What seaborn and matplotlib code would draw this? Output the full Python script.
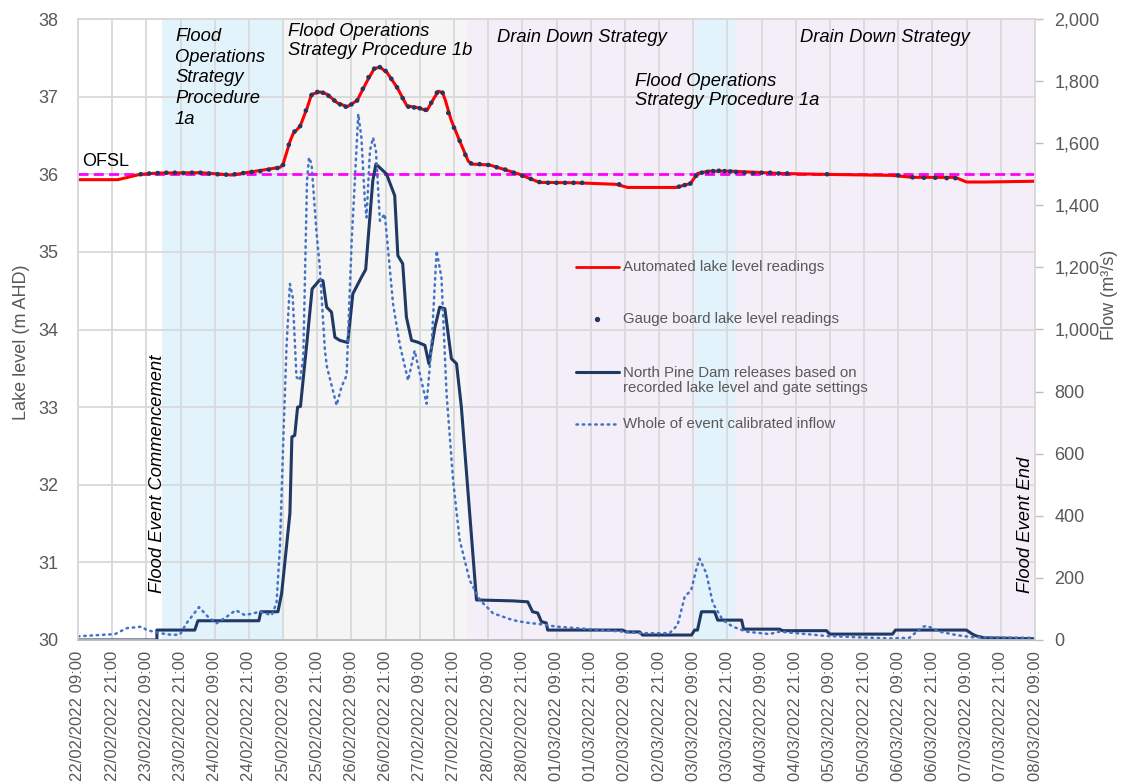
import matplotlib
matplotlib.use("Agg")
import matplotlib.pyplot as plt
import matplotlib.dates as mdates
from matplotlib.ticker import FuncFormatter, MultipleLocator
import pandas as pd
import seaborn as sns

START = pd.Timestamp("2022-02-22 09:00")
END_HOURS = 336

# automated lake level readings (hours after START, m AHD)
auto_hours = [0, 14, 22, 28, 43, 54, 59, 66, 71, 72, 74.5, 75.5, 78, 80.5, 82, 85,
              87.5, 91, 94.5, 98, 101.5, 104, 106, 108.5, 112, 115.5, 119, 122.5,
              124.5, 126.5, 128, 129, 131, 134, 137, 138.5, 144.5, 148, 155, 162,
              175, 189, 193, 210, 215, 217.5, 221.5, 229, 247, 260, 286, 293, 308,
              312, 318.5, 336]
auto_level = [35.93, 35.93, 36.00, 36.015, 36.02, 35.99, 36.02, 36.06, 36.09, 36.13,
              36.43, 36.52, 36.62, 36.86, 37.03, 37.06, 37.03, 36.92, 36.87, 36.95,
              37.20, 37.36, 37.38, 37.31, 37.12, 36.88, 36.86, 36.82, 36.95, 37.07,
              37.05, 36.95, 36.70, 36.43, 36.17, 36.13, 36.12, 36.08, 36.00, 35.895,
              35.89, 35.87, 35.83, 35.83, 35.88, 36.01, 36.04, 36.04, 36.01, 36.00,
              35.985, 35.96, 35.96, 35.90, 35.90, 35.91]

# gauge board lake level readings
gauge_hours = [22, 25, 28, 31, 34, 37, 40, 43, 46, 49, 52, 55, 58, 61, 64, 67, 70, 72,
               74, 76, 78, 80, 82, 84, 86, 88, 90, 92, 94, 96, 98, 100, 102, 104, 106,
               108, 110, 112, 114, 116, 118, 120, 122, 124, 126, 128, 130, 132, 134,
               136, 138, 141, 144, 147, 150, 153, 156, 159, 162, 165, 168, 171, 174,
               177, 190, 211, 213, 215, 217, 219, 221, 223, 225, 227, 229, 231, 234,
               237, 240, 243, 246, 249, 263, 288, 293, 297, 301, 305, 308]
gauge_level = [36.00, 36.01, 36.015, 36.02, 36.02, 36.015, 36.02, 36.02, 36.01, 36.00,
               35.995, 36.00, 36.015, 36.03, 36.04, 36.06, 36.08, 36.12, 36.38, 36.55,
               36.62, 36.82, 37.02, 37.06, 37.05, 37.01, 36.95, 36.90, 36.87, 36.90,
               36.95, 37.10, 37.25, 37.36, 37.38, 37.33, 37.23, 37.12, 36.98, 36.87,
               36.86, 36.85, 36.83, 36.92, 37.05, 37.05, 36.79, 36.60, 36.43, 36.25,
               36.14, 36.13, 36.12, 36.09, 36.06, 36.02, 35.98, 35.94, 35.90, 35.89,
               35.89, 35.89, 35.89, 35.89, 35.87, 35.84, 35.86, 35.88, 35.98, 36.02,
               36.03, 36.04, 36.045, 36.04, 36.035, 36.03, 36.02, 36.015, 36.02, 36.02,
               36.01, 36.01, 36.00, 35.985, 35.96, 35.955, 35.955, 35.95, 35.95]

# North Pine Dam releases (m3/s)
release_hours = [0, 27.7, 27.7, 41, 42.1, 63.5, 64.2, 70.2, 71.5, 74.4, 75.1, 76.1,
                 77.1, 78.1, 80.2, 82.2, 84.9, 86, 87.3, 89, 90.2, 91.9, 94.7, 96.5,
                 99.5, 101, 103.5, 104.6, 108.3, 111.2, 112.3, 114, 115.3, 117.1,
                 119.3, 121.8, 123.2, 125.3, 127, 128.8, 131.1, 132.9, 134.6, 139.9,
                 152.6, 157.9, 159.6, 161.4, 162.7, 164.4, 164.9, 191.2, 192.6, 197.2,
                 198.2, 215.4, 216.5, 217.5, 218.9, 223.5, 224.6, 233, 233.7, 246.3,
                 247.4, 262.8, 263.9, 286, 287, 311.9, 314, 315.4, 318.2, 336]
release_flow = [0, 0, 32, 32, 62, 62, 91, 91, 150, 408, 654, 659, 750, 752, 943, 1131,
                1160, 1157, 1072, 1056, 975, 965, 958, 1115, 1168, 1193, 1479, 1533,
                1501, 1431, 1238, 1212, 1040, 965, 959, 949, 890, 1007, 1072, 1067,
                906, 890, 750, 129, 126, 123, 91, 87, 59, 55, 32, 32, 26, 26, 16, 16,
                32, 32, 91, 91, 64, 64, 35, 35, 30, 30, 19, 19, 32, 32, 19, 13, 7, 4]

# whole of event calibrated inflow (m3/s)
inflow_hours = [0, 13, 17.1, 22.4, 24.1, 28.8, 33.3, 35.8, 38.1, 42.5, 45.6, 48.7,
                52.2, 55.4, 58.6, 63.9, 68, 69.7, 70.9, 72, 73.2, 74.4, 75.4, 76.7,
                77.9, 79.1, 80.4, 81.1, 82, 83.7, 84.9, 86.7, 87.4, 90.8, 92.5, 94.3,
                95.1, 96.1, 98.4, 99.5, 100.7, 101.3, 102.5, 103.6, 104.6, 106, 107.7,
                108.9, 110.6, 113, 115.9, 118.2, 120, 122.4, 124.1, 125.9, 127.6,
                129.4, 131.7, 134, 137.5, 141.1, 145.7, 152.7, 157.4, 163.2, 168,
                191.2, 197.2, 207.7, 210.5, 213, 215.3, 217, 218.2, 220.6, 222.9,
                226.4, 229.9, 234.6, 242.8, 246.3, 255.7, 262.7, 273.2, 284.9, 291.9,
                296.6, 298.2, 302.5, 308.3, 314, 336]
inflow_flow = [12, 19, 38, 43, 32, 22, 16, 18, 54, 106, 75, 54, 75, 96, 80, 91, 80,
               119, 300, 622, 943, 1147, 1104, 847, 836, 911, 1479, 1554, 1533, 1318,
               1200, 932, 880, 756, 815, 852, 1051, 1286, 1694, 1618, 1415, 1361,
               1576, 1618, 1576, 1350, 1372, 1254, 1083, 950, 836, 932, 858, 761, 943,
               1254, 1168, 793, 514, 322, 193, 129, 86, 64, 56, 50, 43, 27, 22, 22,
               48, 139, 161, 225, 262, 215, 118, 64, 43, 27, 19, 27, 19, 13, 9, 5, 7,
               43, 45, 27, 16, 9, 7]

OFSL = 36.0

# operating strategy periods (start hour, end hour, kind)
period_start = [29.5, 72, 136.5, 216.5, 230.5]
period_end = [72, 136.5, 216.5, 230.5, 336]
period_kind = ["fos1a", "fos1b", "drain", "fos1a", "drain"]
period_color = {"fos1a": "#E2F3FB", "fos1b": "#F5F5F5", "drain": "#F3EEF8"}

flood_start_hour = 29
flood_end_hour = 336


def to_time(hours):
    return START + pd.to_timedelta(pd.Series(hours, dtype=float), unit="h")


auto_df = pd.DataFrame({"time": to_time(auto_hours), "level": auto_level})
gauge_df = pd.DataFrame({"time": to_time(gauge_hours), "level": gauge_level})
release_df = pd.DataFrame({"time": to_time(release_hours), "flow": release_flow})
inflow_df = pd.DataFrame({"time": to_time(inflow_hours), "flow": inflow_flow})

sns.set_style("white")
plt.rcParams["font.family"] = ["Liberation Sans", "DejaVu Sans"]

GREY_TXT = "#595959"
GRID = "#D9D9D9"

fig = plt.figure(figsize=(11.22, 7.82), dpi=100)
ax = fig.add_axes([78 / 1122, 142 / 782, 957 / 1122, 621 / 782])
ax2 = ax.twinx()

for s, e, k in zip(period_start, period_end, period_kind):
    ax.axvspan(to_time([s])[0], to_time([e])[0], color=period_color[k], lw=0, zorder=0)

ax.set_axisbelow(True)
ax.grid(True, color=GRID, lw=1.3)

ax.axhline(OFSL, color="#FF00FF", lw=2, ls=(0, (3.6, 1.9)), zorder=3)
sns.lineplot(data=auto_df, x="time", y="level", ax=ax, color="#FF0000", lw=2.2,
             estimator=None, sort=False, zorder=4)
sns.scatterplot(data=gauge_df, x="time", y="level", ax=ax, color="#1F3864", s=11,
                edgecolor="none", zorder=5)

sns.lineplot(data=release_df, x="time", y="flow", ax=ax2, color="#1F3864", lw=2.2,
             estimator=None, sort=False)
sns.lineplot(data=inflow_df, x="time", y="flow", ax=ax2, color="#4472C4", lw=1.8,
             estimator=None, sort=False)
ax2.lines[-1].set_linestyle((0, (0.6, 1.9)))
ax2.lines[-1].set_dash_capstyle("round")

ax.set_xlim(START, START + pd.Timedelta(hours=END_HOURS))
ax.set_ylim(30, 38)
ax2.set_ylim(0, 2000)
ax.yaxis.set_major_locator(MultipleLocator(1))
ax2.yaxis.set_major_locator(MultipleLocator(200))
ax2.yaxis.set_major_formatter(FuncFormatter(lambda v, p: f"{v:,.0f}"))
ax.set_xticks(pd.date_range(START, periods=END_HOURS // 12 + 1, freq="12h"))
ax.xaxis.set_major_formatter(mdates.DateFormatter("%d/%m/%Y %H:%M"))

ax.tick_params(axis="x", labelrotation=90, labelsize=12, colors=GREY_TXT, length=5,
               width=1, pad=3, color="#BFBFBF")
ax.tick_params(axis="y", labelsize=13, colors=GREY_TXT, length=0, pad=14)
ax2.tick_params(axis="y", labelsize=13, colors=GREY_TXT, length=6, width=1, pad=8,
                color="#BFBFBF")

ax.set_xlabel("")
ax.set_ylabel("Lake level (m AHD)", fontsize=13, color=GREY_TXT)
ax.yaxis.set_label_coords(-0.05, 0.48)
ax2.set_ylabel("Flow (m\u00b3/s)", fontsize=13, color=GREY_TXT)
ax2.yaxis.set_label_coords(1.069, 0.555)

for a in (ax, ax2):
    for sp in a.spines.values():
        sp.set_color(GRID)
        sp.set_linewidth(1.3)
    a.spines["bottom"].set_color("#BFBFBF")

# annotations
ann = dict(fontsize=13.2, style="italic", color="black", transform=ax.transAxes)
ax.text((175 - 78) / 957, (640 - 28) / 621, "Flood\nOperations\nStrategy\nProcedure\n1a",
        va="top", ha="left", linespacing=1.28, **ann)
ax.text((288 - 78) / 957, (640 - 23) / 621, "Flood Operations\nStrategy Procedure 1b",
        va="top", ha="left", linespacing=1.18, **ann)
ax.text((497 - 78) / 957, (640 - 37) / 621, "Drain Down Strategy", va="center", ha="left", **ann)
ax.text((800 - 78) / 957, (640 - 37) / 621, "Drain Down Strategy", va="center", ha="left", **ann)
ax.text((635 - 78) / 957, (640 - 73) / 621, "Flood Operations\nStrategy Procedure 1a",
        va="top", ha="left", linespacing=1.18, **ann)
ax.text(to_time([flood_start_hour - 1.2])[0], 30.6, "Flood Event Commencement", rotation=90,
        va="bottom", ha="center", fontsize=13.2, style="italic", color="black")
ax.text(to_time([flood_end_hour - 3.5])[0], 30.6, "Flood Event End", rotation=90,
        va="bottom", ha="center", fontsize=13.2, style="italic", color="black")
ax.text((82 - 78) / 957, (640 - 162) / 621, "OFSL", va="center", ha="left",
        fontsize=13, color="black", transform=ax.transAxes)

# legend drawn as keys
def fx(px):
    return (px - 78) / 957


def fy(py):
    return (640 - py) / 621


leg = dict(fontsize=10.8, color=GREY_TXT, transform=ax2.transAxes, va="center", ha="left")
ax2.plot([fx(576), fx(619)], [fy(267), fy(267)], color="#FF0000", lw=2, transform=ax2.transAxes)
ax2.text(fx(623), fy(267), "Automated lake level readings", **leg)
ax2.plot([fx(597)], [fy(319)], "o", color="#1F3864", ms=2.8, transform=ax2.transAxes)
ax2.text(fx(623), fy(319), "Gauge board lake level readings", **leg)
ax2.plot([fx(576), fx(619)], [fy(372), fy(372)], color="#1F3864", lw=2.2, transform=ax2.transAxes)
ax2.text(fx(623), fy(380.5), "North Pine Dam releases based on\nrecorded lake level and gate settings",
         linespacing=1.15, **leg)
ln = ax2.plot([fx(576), fx(619)], [fy(424), fy(424)], color="#4472C4", lw=1.8,
              transform=ax2.transAxes)[0]
ln.set_linestyle((0, (0.6, 1.9)))
ln.set_dash_capstyle("round")
ax2.text(fx(623), fy(424), "Whole of event calibrated inflow", **leg)

fig.savefig("out.png", dpi=100)
